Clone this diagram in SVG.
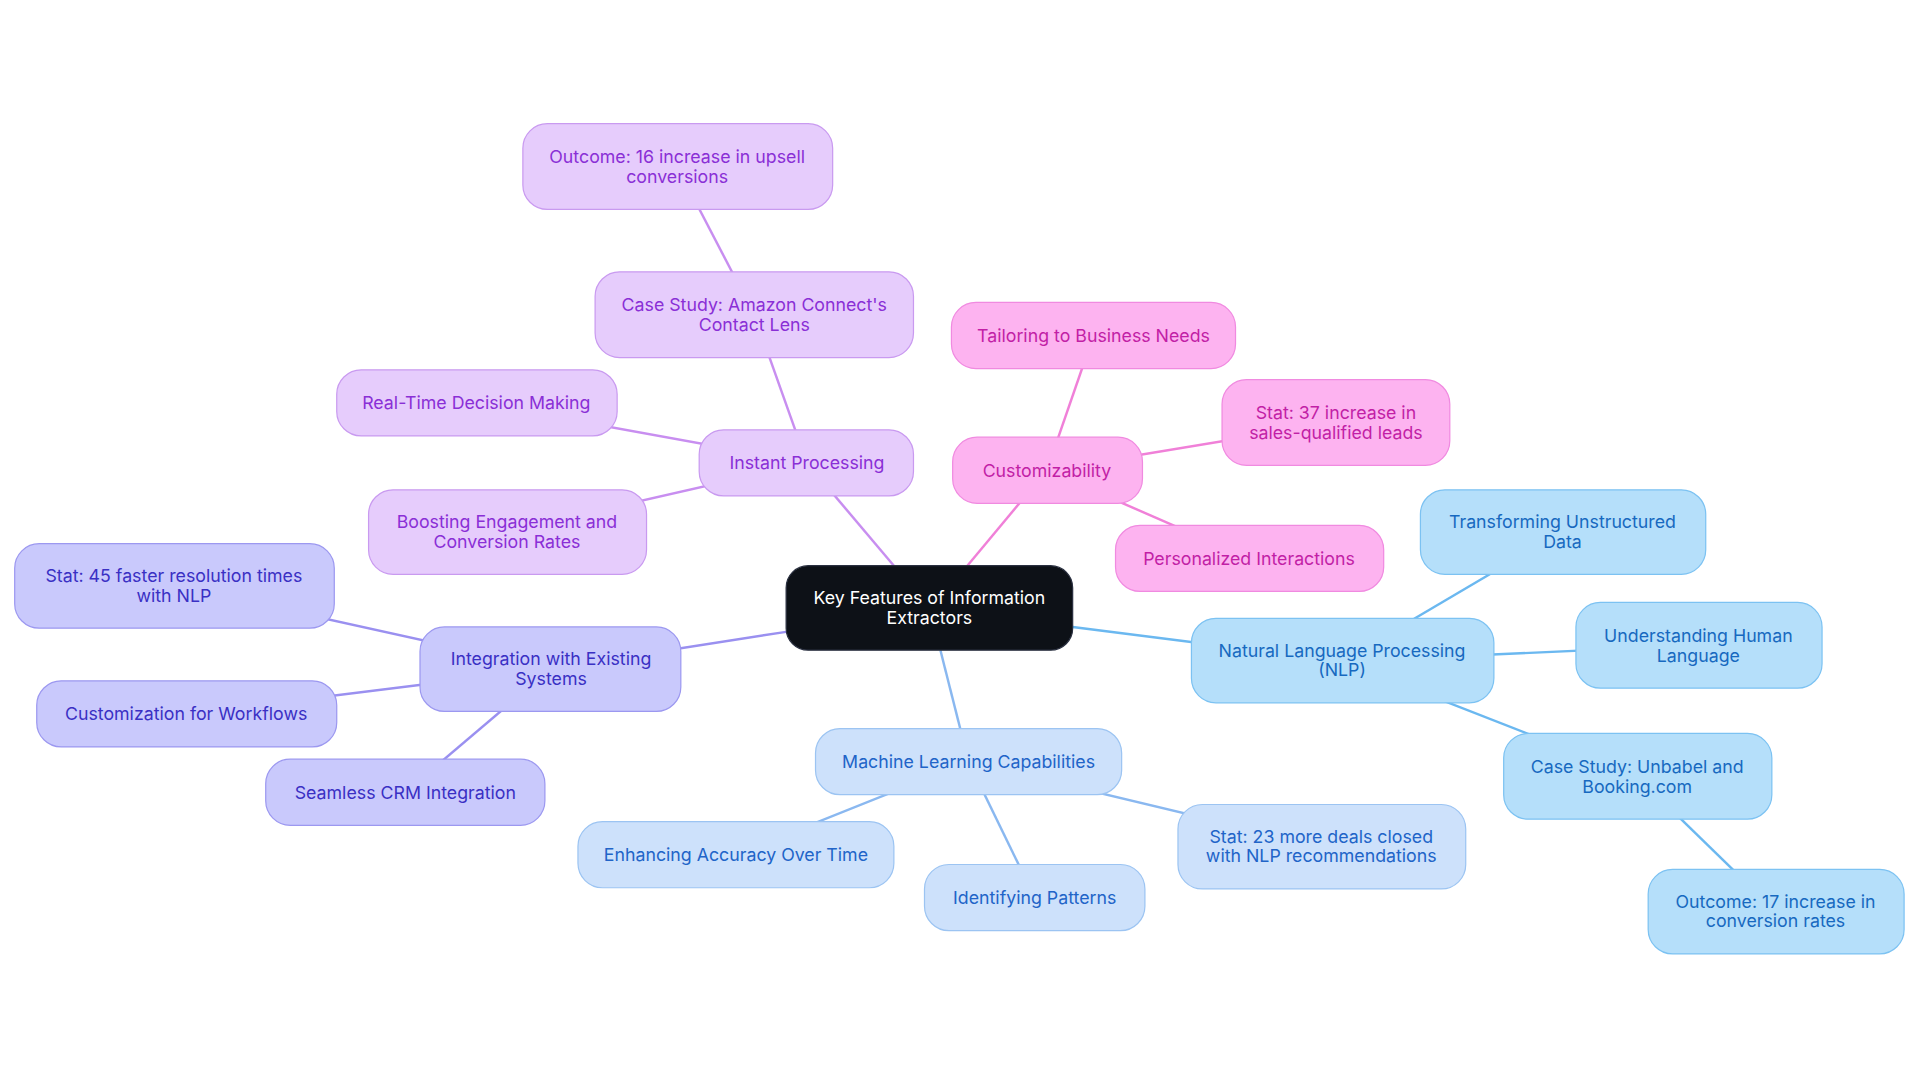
<svg xmlns="http://www.w3.org/2000/svg" width="1920" height="1083" viewBox="0 0 1920 1083">
<style>
text{font-family:Inter,"Liberation Sans",sans-serif;font-size:14.5px;text-anchor:middle;dominant-baseline:central}
.p rect{fill:#e6ccfc;stroke:#c99af0}.p text{fill:#8a2fd6}
.k rect{fill:#fdb3f0;stroke:#f08ae0}.k text{fill:#c21fa6}
.b rect{fill:#b5dffa;stroke:#7cc2f2}.b text{fill:#1769c0}
.m rect{fill:#cde1fb;stroke:#9cc4f2}.m text{fill:#2164c8}
.i rect{fill:#c9c9fc;stroke:#9c98f0}.i text{fill:#3a30c4}
#connectors line{stroke-width:2}
</style>
<rect width="1920" height="1083" fill="#fff"/>
<g transform="scale(1.2245)">
<g id="connectors">
<g stroke="#c88ef0"><line x1="659" y1="378" x2="730" y2="462"/><line x1="659" y1="378" x2="616" y2="257"/><line x1="616" y1="257" x2="553" y2="136"/><line x1="659" y1="378" x2="389" y2="329"/><line x1="659" y1="378" x2="414" y2="434"/></g>
<g stroke="#f080d8"><line x1="855" y1="384" x2="790" y2="462"/><line x1="855" y1="384" x2="893" y2="274"/><line x1="855" y1="384" x2="1091" y2="345"/><line x1="855" y1="384" x2="1020" y2="456"/></g>
<g stroke="#6bb8f0"><line x1="876" y1="512" x2="1096" y2="540"/><line x1="1096" y1="540" x2="1276" y2="434"/><line x1="1096" y1="540" x2="1387" y2="527"/><line x1="1096" y1="540" x2="1337" y2="634"/><line x1="1337" y1="634" x2="1450" y2="744"/></g>
<g stroke="#8ab8f0"><line x1="768" y1="531" x2="791" y2="622"/><line x1="791" y1="622" x2="601" y2="698"/><line x1="791" y1="622" x2="845" y2="733"/><line x1="791" y1="622" x2="1079" y2="691"/></g>
<g stroke="#9a90f0"><line x1="642" y1="516" x2="450" y2="546"/><line x1="450" y1="546" x2="142" y2="478"/><line x1="450" y1="546" x2="152" y2="583"/><line x1="450" y1="546" x2="331" y2="647"/></g>
</g>
<g id="center"><rect x="642" y="462" width="234" height="69" rx="18" fill="#0d1117" stroke="#2a3040"/><text x="759" y="488" fill="#fff">Key Features of Information</text><text x="759" y="504" fill="#fff">Extractors</text></g>
<g id="n1" class="p"><rect x="571" y="351" width="175" height="54" rx="20"/><text x="659" y="378">Instant Processing</text></g>
<g id="n2" class="p"><rect x="486" y="222" width="260" height="70" rx="20"/><text x="616" y="249">Case Study: Amazon Connect's</text><text x="616" y="265">Contact Lens</text></g>
<g id="n3" class="p"><rect x="427" y="101" width="253" height="70" rx="20"/><text x="553" y="128">Outcome: 16 increase in upsell</text><text x="553" y="144">conversions</text></g>
<g id="n4" class="p"><rect x="275" y="302" width="229" height="54" rx="20"/><text x="389" y="329">Real-Time Decision Making</text></g>
<g id="n5" class="p"><rect x="301" y="400" width="227" height="69" rx="20"/><text x="414" y="426">Boosting Engagement and</text><text x="414" y="442">Conversion Rates</text></g>
<g id="n6" class="k"><rect x="778" y="357" width="155" height="54" rx="20"/><text x="855" y="384">Customizability</text></g>
<g id="n7" class="k"><rect x="777" y="247" width="232" height="54" rx="20"/><text x="893" y="274">Tailoring to Business Needs</text></g>
<g id="n8" class="k"><rect x="998" y="310" width="186" height="70" rx="20"/><text x="1091" y="337">Stat: 37 increase in</text><text x="1091" y="353">sales-qualified leads</text></g>
<g id="n9" class="k"><rect x="911" y="429" width="219" height="54" rx="20"/><text x="1020" y="456">Personalized Interactions</text></g>
<g id="n10" class="b"><rect x="973" y="505" width="247" height="69" rx="20"/><text x="1096" y="531">Natural Language Processing</text><text x="1096" y="547">(NLP)</text></g>
<g id="n11" class="b"><rect x="1160" y="400" width="233" height="69" rx="20"/><text x="1276" y="426">Transforming Unstructured</text><text x="1276" y="442">Data</text></g>
<g id="n12" class="b"><rect x="1287" y="492" width="201" height="70" rx="20"/><text x="1387" y="519">Understanding Human</text><text x="1387" y="535">Language</text></g>
<g id="n13" class="b"><rect x="1228" y="599" width="219" height="70" rx="20"/><text x="1337" y="626">Case Study: Unbabel and</text><text x="1337" y="642">Booking.com</text></g>
<g id="n14" class="b"><rect x="1346" y="710" width="209" height="69" rx="20"/><text x="1450" y="736">Outcome: 17 increase in</text><text x="1450" y="752">conversion rates</text></g>
<g id="n15" class="m"><rect x="666" y="595" width="250" height="54" rx="20"/><text x="791" y="622">Machine Learning Capabilities</text></g>
<g id="n16" class="m"><rect x="472" y="671" width="258" height="54" rx="20"/><text x="601" y="698">Enhancing Accuracy Over Time</text></g>
<g id="n17" class="m"><rect x="755" y="706" width="180" height="54" rx="20"/><text x="845" y="733">Identifying Patterns</text></g>
<g id="n18" class="m"><rect x="962" y="657" width="235" height="69" rx="20"/><text x="1079" y="683">Stat: 23 more deals closed</text><text x="1079" y="699">with NLP recommendations</text></g>
<g id="n19" class="i"><rect x="343" y="512" width="213" height="69" rx="20"/><text x="450" y="538">Integration with Existing</text><text x="450" y="554">Systems</text></g>
<g id="n20" class="i"><rect x="12" y="444" width="261" height="69" rx="20"/><text x="142" y="470">Stat: 45 faster resolution times</text><text x="142" y="486">with NLP</text></g>
<g id="n21" class="i"><rect x="30" y="556" width="245" height="54" rx="20"/><text x="152" y="583">Customization for Workflows</text></g>
<g id="n22" class="i"><rect x="217" y="620" width="228" height="54" rx="20"/><text x="331" y="647">Seamless CRM Integration</text></g>
</g>
</svg>
